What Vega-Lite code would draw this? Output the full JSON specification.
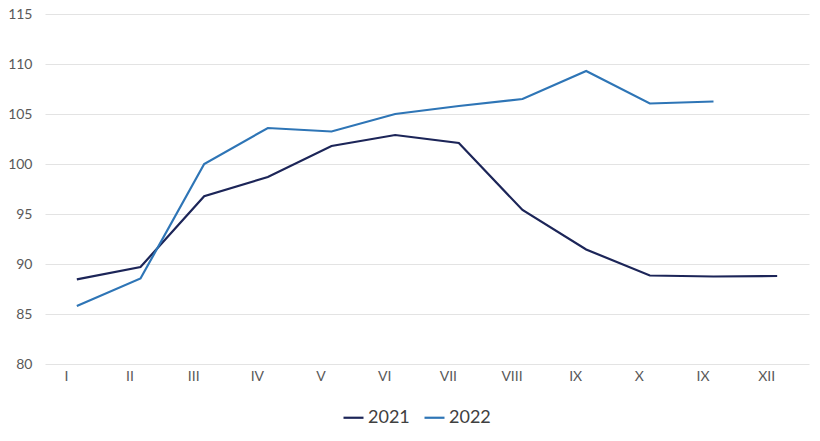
{
  "$schema": "https://vega.github.io/schema/vega-lite/v6.json",
  "width": 764,
  "height": 350,
  "autosize": {"type": "none"},
  "padding": {"left": 45, "top": 14, "right": 11, "bottom": 77},
  "background": "white",
  "config": {
    "view": {"stroke": null},
    "font": "Lato",
    "axis": {"labelFont": "Lato", "labelColor": "#595959", "labelFontSize": 13},
    "legend": {"labelFont": "Lato"}
  },
  "data": {
    "values": [
      {"m": 1, "year": "2021", "value": 88.47},
      {"m": 2, "year": "2021", "value": 89.7},
      {"m": 3, "year": "2021", "value": 96.77},
      {"m": 4, "year": "2021", "value": 98.7},
      {"m": 5, "year": "2021", "value": 101.8},
      {"m": 6, "year": "2021", "value": 102.9},
      {"m": 7, "year": "2021", "value": 102.1},
      {"m": 8, "year": "2021", "value": 95.4},
      {"m": 9, "year": "2021", "value": 91.45},
      {"m": 10, "year": "2021", "value": 88.85},
      {"m": 11, "year": "2021", "value": 88.75},
      {"m": 12, "year": "2021", "value": 88.8},
      {"m": 1, "year": "2022", "value": 85.8},
      {"m": 2, "year": "2022", "value": 88.55},
      {"m": 3, "year": "2022", "value": 100.0},
      {"m": 4, "year": "2022", "value": 103.6},
      {"m": 5, "year": "2022", "value": 103.25},
      {"m": 6, "year": "2022", "value": 105.0},
      {"m": 7, "year": "2022", "value": 105.8},
      {"m": 8, "year": "2022", "value": 106.5},
      {"m": 9, "year": "2022", "value": 109.3},
      {"m": 10, "year": "2022", "value": 106.05},
      {"m": 11, "year": "2022", "value": 106.25}
    ]
  },
  "mark": {"type": "line", "strokeWidth": 2.2},
  "encoding": {
    "x": {
      "field": "m",
      "type": "quantitative",
      "scale": {"domain": [0.5, 12.5], "nice": false, "zero": false},
      "axis": {
        "title": null,
        "values": [1, 2, 3, 4, 5, 6, 7, 8, 9, 10, 11, 12],
        "labelExpr": "['I','II','III','IV','V','VI','VII','VIII','IX','X','IX','XII'][datum.value - 1]",
        "grid": false,
        "ticks": false,
        "domain": false,
        "labelPadding": 5,
        "labelOffset": -11,
        "labelFontSize": 14
      }
    },
    "y": {
      "field": "value",
      "type": "quantitative",
      "scale": {"domain": [80, 115], "nice": false, "zero": false},
      "axis": {
        "title": null,
        "values": [80, 85, 90, 95, 100, 105, 110, 115],
        "grid": true,
        "gridColor": "#e3e3e3",
        "gridWidth": 1,
        "ticks": false,
        "domain": false,
        "labelPadding": 13,
        "labelFontSize": 14
      }
    },
    "color": {
      "field": "year",
      "type": "nominal",
      "scale": {"domain": ["2021", "2022"], "range": ["#1c2558", "#2e75b6"]},
      "legend": {
        "title": null,
        "orient": "none",
        "direction": "horizontal",
        "legendX": 297,
        "legendY": 392,
        "symbolType": "stroke",
        "symbolSize": 400,
        "symbolStrokeWidth": 2.2,
        "labelFontSize": 18,
        "labelColor": "#404040",
        "columnPadding": 10,
        "labelOffset": 3
      }
    }
  }
}
